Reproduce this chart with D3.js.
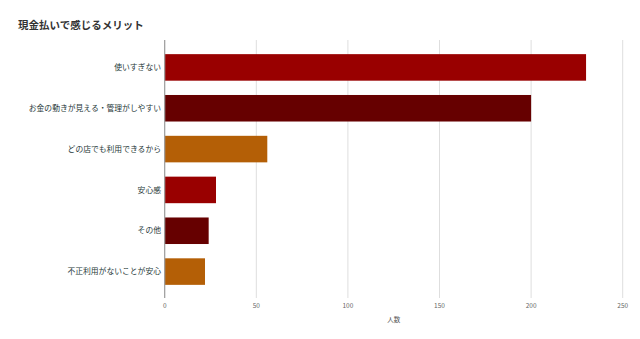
<!DOCTYPE html>
<html>
<head>
<meta charset="utf-8">
<script src="https://cdn.jsdelivr.net/npm/d3@7"></script>
<style>
  body { margin: 0; background: #fff; }
  svg { font-family: "Noto Sans CJK JP", "Noto Sans", sans-serif; }
</style>
</head>
<body>
<script>
// chart data
var categories = ["使いすぎない", "お金の動きが見える・管理がしやすい", "どの店でも利用できるから", "安心感", "その他", "不正利用がないことが安心"];
var values = [230, 200, 56, 28, 24, 22];
var barColors = ["#990000", "#660000", "#b45f06", "#990000", "#660000", "#b45f06"];
var xTicks = [0, 50, 100, 150, 200, 250];
var title = "現金払いで感じるメリット";
var xLabel = "人数";

var width = 640, height = 339;
var svg = d3.select("body").append("svg")
    .attr("width", width)
    .attr("height", height);

var x = d3.scaleLinear().domain([0, 250]).range([164.7, 622.7]);
var y = d3.scaleBand().domain(categories).range([47, 292])
    .paddingInner(0.35).paddingOuter(0.175);

var plotTop = 40, plotBottom = 298;

svg.append("text")
    .attr("x", 18)
    .attr("y", 28.5)
    .attr("font-size", 10.5)
    .attr("font-weight", "bold")
    .attr("fill", "#333")
    .text(title);

// gridlines
svg.append("g").selectAll("line")
    .data(xTicks.slice(1))
    .enter().append("line")
    .attr("x1", function (d) { return x(d); })
    .attr("x2", function (d) { return x(d); })
    .attr("y1", plotTop)
    .attr("y2", plotBottom)
    .attr("stroke", "#dedede")
    .attr("stroke-width", 1);

// bars
svg.append("g").selectAll("rect")
    .data(values)
    .enter().append("rect")
    .attr("x", x(0))
    .attr("y", function (d, i) { return y(categories[i]); })
    .attr("width", function (d) { return x(d) - x(0); })
    .attr("height", y.bandwidth())
    .attr("fill", function (d, i) { return barColors[i]; });

// zero axis
svg.append("line")
    .attr("x1", x(0)).attr("x2", x(0))
    .attr("y1", plotTop).attr("y2", plotBottom)
    .attr("stroke", "#9a9a9a")
    .attr("stroke-width", 1.2);

// category labels
svg.append("g").selectAll("text")
    .data(categories)
    .enter().append("text")
    .attr("x", 161)
    .attr("y", function (d) { return y(d) + y.bandwidth() / 2; })
    .attr("dy", "0.35em")
    .attr("text-anchor", "end")
    .attr("font-size", 7.8)
    .attr("fill", "#263838")
    .text(function (d) { return d; });

// x tick labels
svg.append("g").selectAll("text")
    .data(xTicks)
    .enter().append("text")
    .attr("x", function (d) { return x(d); })
    .attr("y", 307.5)
    .attr("text-anchor", "middle")
    .attr("font-size", 6.5)
    .attr("fill", "#666")
    .text(function (d) { return d; });

svg.append("text")
    .attr("x", (x(0) + x(250)) / 2)
    .attr("y", 322)
    .attr("text-anchor", "middle")
    .attr("font-size", 6.5)
    .attr("fill", "#555")
    .text(xLabel);
</script>
</body>
</html>
